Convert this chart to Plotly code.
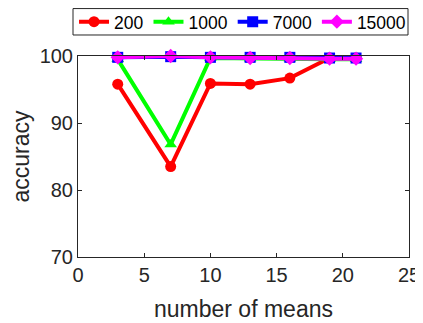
import plotly.graph_objects as go

means = [3, 7, 10, 13, 16, 19, 21]
acc_200 = [95.8, 83.5, 95.9, 95.8, 96.7, 99.7, 99.7]
acc_1000 = [99.5, 86.8, 99.7, 99.6, 99.6, 99.5, 99.5]
acc_7000 = [99.8, 99.9, 99.8, 99.8, 99.8, 99.7, 99.7]
acc_15000 = [99.8, 100.0, 99.8, 99.7, 99.7, 99.6, 99.6]

x_ticks = [0, 5, 10, 15, 20, 25]
y_ticks = [70, 80, 90, 100]

series = [
    ("200", acc_200, "#ff0000", "circle"),
    ("1000", acc_1000, "#00ff00", "triangle-up"),
    ("7000", acc_7000, "#0000ff", "square"),
    ("15000", acc_15000, "#ff00ff", "diamond"),
]

fig = go.Figure()
for name, vals, color, sym in series:
    fig.add_trace(go.Scatter(
        x=means, y=vals, name=name, mode="lines+markers",
        line=dict(color=color, width=4),
        marker=dict(symbol=sym, size=11, color=color),
        cliponaxis=False,
    ))

axis_common = dict(
    showline=True, linecolor="#262626", linewidth=1, mirror="ticks",
    ticks="inside", ticklen=4, tickcolor="#262626",
    showgrid=False, zeroline=False, automargin=False,
    tickfont=dict(size=20, color="#262626"),
)

# legend frame (decoration around the legend entries)
fig.add_shape(type="rect", xref="paper", yref="paper",
              x0=-0.0151, x1=0.997, y0=1.1045, y1=1.236,
              line=dict(color="#262626", width=1), fillcolor="white", layer="below")

fig.update_layout(
    width=415, height=315,
    margin=dict(l=70, r=14, t=48, b=66, autoexpand=False),
    paper_bgcolor="white", plot_bgcolor="white",
    font=dict(family="Liberation Sans, Arial, sans-serif", color="#262626"),
    xaxis=dict(range=[0, 25], tickvals=x_ticks,
               title=dict(text="number of means", font=dict(size=23), standoff=15),
               **axis_common),
    yaxis=dict(range=[70, 100], tickvals=y_ticks,
               title=dict(text="accuracy", font=dict(size=23), standoff=6),
               **axis_common),
    legend=dict(orientation="h", x=-0.012, xanchor="left", y=1.17, yanchor="middle",
                borderwidth=0, bgcolor="rgba(0,0,0,0)",
                font=dict(size=17.5, color="#000000"),
                itemwidth=30, tracegroupgap=0),
    showlegend=True,
)

fig.write_html("out.html")
